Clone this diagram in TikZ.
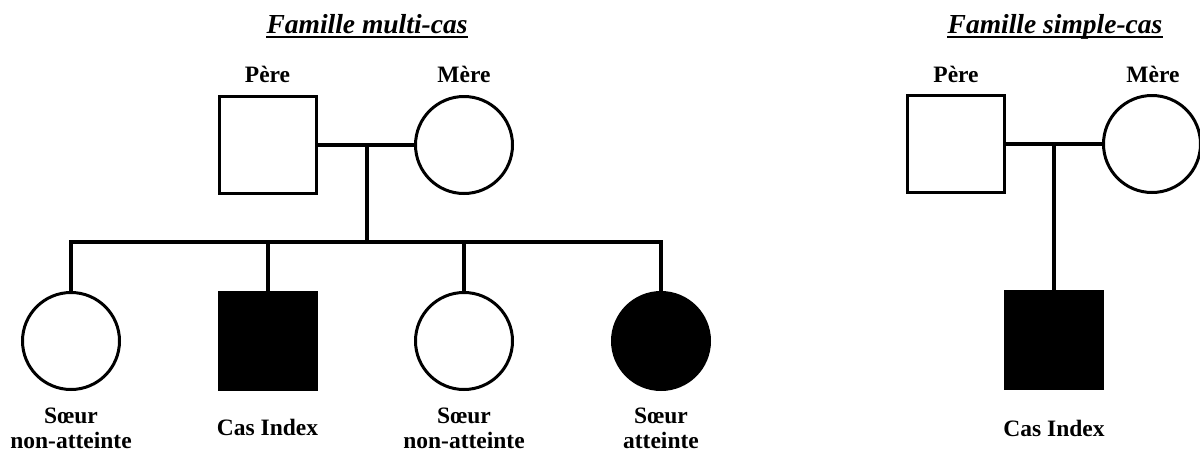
\documentclass[tikz,border=0pt]{standalone}
\usepackage{fontspec}
\setmainfont{Liberation Serif}
\begin{document}
\begin{tikzpicture}[x=1pt,y=-1pt,
  lbl/.style={font=\fontsize{23.5}{25}\selectfont\bfseries, inner sep=0pt, anchor=base},
  ttl/.style={font=\fontsize{27.5}{30}\selectfont\bfseries\itshape, inner sep=0pt, anchor=base},
  male/.style={draw, rectangle, minimum size=97pt, inner sep=0pt, line width=3pt},
  female/.style={draw, circle, minimum size=97pt, inner sep=0pt, line width=3pt},
  affected/.style={fill=black},
  marr/.style={line width=3.5pt},
  desc/.style={line width=4pt},
  uline/.style={line width=2pt}]
\useasboundingbox (0,0) rectangle (1200,453);
\fill[white] (0,0) rectangle (1200,453);

% ---- Famille multi-cas ----
\node[ttl] (t1) at (367,33) {Famille multi-cas};
\draw[uline] ([yshift=-4pt]t1.base west) -- ([yshift=-4pt]t1.base east);

\node[male] (p1) at (267.5,145) {};
\node[female] (m1) at (464,145) {};
\node[lbl] (lp1) at (267.5,82) {Père};
\node[lbl] (lm1) at (464,82) {Mère};
\coordinate (c1) at (367,145);
\coordinate (s1) at (367,242);
\draw[marr] (p1) -- (m1);
\draw[desc] (c1) -- (s1);

\node[female] (k1) at (71,341) {};
\node[male,affected] (k2) at (267.5,341) {};
\node[female] (k3) at (464,341) {};
\node[female,affected] (k4) at (661,341) {};
\draw[desc] (k1.north) |- (s1) -| (k4.north);
\draw[desc] (k2.north) -- (k2.north |- s1);
\draw[desc] (k3.north) -- (k3.north |- s1);

\node[lbl, align=center] (lk1) at (71,448) {Sœur\\non-atteinte};
\node[lbl] (lk2) at (267.5,435) {Cas Index};
\node[lbl, align=center] (lk3) at (464,448) {Sœur\\non-atteinte};
\node[lbl, align=center] (lk4) at (661,448) {Sœur\\atteinte};

% ---- Famille simple-cas ----
\node[ttl] (t2) at (1055,33) {Famille simple-cas};
\draw[uline] ([yshift=-4pt]t2.base west) -- ([yshift=-4pt]t2.base east);

\node[male] (p2) at (956,144) {};
\node[female] (m2) at (1152,144) {};
\node[lbl] (lp2) at (956,82) {Père};
\node[lbl] (lm2) at (1153,82) {Mère};
\coordinate (c2) at (1054,144);
\draw[marr] (p2) -- (m2);
\node[male,affected] (k5) at (1054,340) {};
\draw[desc] (c2) -- (k5);
\node[lbl] (lk5) at (1054,436) {Cas Index};
\end{tikzpicture}
\end{document}
